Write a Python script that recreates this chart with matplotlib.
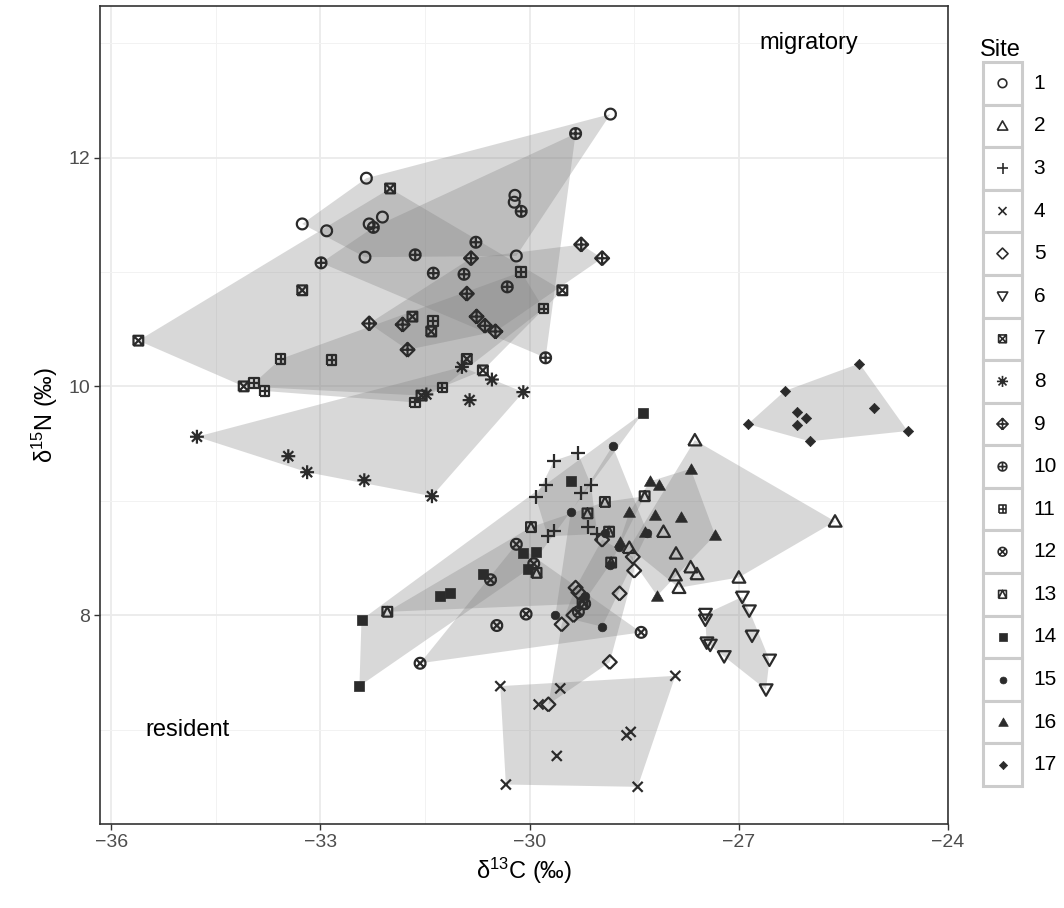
import numpy as np
import matplotlib
matplotlib.use("Agg")
import matplotlib.pyplot as plt
from matplotlib.path import Path
from matplotlib.markers import MarkerStyle
from matplotlib.patches import Rectangle

plt.rcParams['font.family'] = ['Liberation Sans', 'DejaVu Sans']
plt.rcParams['mathtext.fontset'] = 'custom'
plt.rcParams['mathtext.rm'] = 'Liberation Sans'
plt.rcParams['mathtext.default'] = 'regular'

# ---- data: d13C / d15N per site ----
c13_site1 = [-32.34, -33.26, -32.91, -32.30, -32.11, -32.36, -28.84, -30.21, -30.22, -30.19]
n15_site1 = [11.82, 11.42, 11.36, 11.42, 11.48, 11.13, 12.38, 11.67, 11.61, 11.14]
c13_site2 = [-27.63, -25.62, -28.08, -28.57, -27.90, -27.69, -27.60, -27.91, -27.86, -27.00]
n15_site2 = [9.53, 8.82, 8.73, 8.59, 8.54, 8.42, 8.36, 8.35, 8.24, 8.33]
c13_site3 = [-29.65, -29.31, -29.77, -29.91, -29.12, -29.26, -29.65, -29.74, -29.16, -29.03]
n15_site3 = [9.35, 9.42, 9.14, 9.03, 9.14, 9.07, 8.74, 8.69, 8.77, 8.71]
c13_site4 = [-30.42, -29.56, -29.87, -29.61, -28.61, -28.55, -27.91, -30.34, -28.45]
n15_site4 = [7.38, 7.36, 7.22, 6.77, 6.95, 6.98, 7.47, 6.52, 6.50]
c13_site5 = [-28.96, -28.52, -28.50, -28.71, -29.34, -29.30, -28.85, -29.73, -29.54, -29.37]
n15_site5 = [8.66, 8.51, 8.39, 8.19, 8.24, 8.20, 7.59, 7.22, 7.92, 8.00]
c13_site6 = [-26.95, -26.85, -27.48, -27.48, -26.81, -27.46, -27.41, -27.21, -26.56, -26.61]
n15_site6 = [8.16, 8.04, 8.01, 7.96, 7.82, 7.76, 7.74, 7.64, 7.61, 7.35]
c13_site7 = [-32.00, -33.26, -29.53, -35.61, -34.10, -31.68, -31.41, -30.90, -30.67, -31.55]
n15_site7 = [11.73, 10.84, 10.84, 10.40, 10.00, 10.61, 10.48, 10.24, 10.14, 9.92]
c13_site8 = [-34.77, -33.46, -33.19, -32.37, -31.40, -31.48, -30.97, -30.86, -30.54, -30.09]
n15_site8 = [9.56, 9.39, 9.25, 9.18, 9.04, 9.93, 10.17, 9.88, 10.06, 9.95]
c13_site9 = [-29.26, -28.96, -30.84, -30.90, -30.76, -30.64, -30.49, -31.82, -31.75, -32.30]
n15_site9 = [11.24, 11.12, 11.12, 10.81, 10.61, 10.53, 10.48, 10.54, 10.32, 10.55]
c13_site10 = [-32.24, -32.99, -31.64, -31.38, -29.34, -30.12, -30.77, -30.94, -30.32, -29.77]
n15_site10 = [11.39, 11.08, 11.15, 10.99, 12.21, 11.53, 11.26, 10.98, 10.87, 10.25]
c13_site11 = [-30.12, -29.80, -31.38, -31.25, -31.64, -33.57, -32.84, -33.95, -33.80]
n15_site11 = [11.00, 10.68, 10.57, 9.99, 9.86, 10.24, 10.23, 10.03, 9.96]
c13_site12 = [-30.19, -29.94, -30.56, -30.47, -30.05, -31.57, -28.40, -29.30, -29.21]
n15_site12 = [8.62, 8.45, 8.31, 7.91, 8.01, 7.58, 7.85, 8.03, 8.10]
c13_site13 = [-28.92, -29.17, -29.98, -28.86, -28.35, -28.83, -29.90, -32.04, -29.24]
n15_site13 = [8.99, 8.89, 8.77, 8.73, 9.04, 8.46, 8.37, 8.03, 8.10]
c13_site14 = [-28.37, -29.40, -30.09, -29.91, -30.02, -30.67, -31.14, -31.28, -32.41, -32.44]
n15_site14 = [9.77, 9.17, 8.54, 8.55, 8.40, 8.36, 8.19, 8.17, 7.96, 7.38]
c13_site15 = [-28.81, -29.41, -28.92, -28.72, -28.85, -29.20, -29.63, -28.96, -28.31]
n15_site15 = [9.48, 8.90, 8.72, 8.60, 8.44, 8.17, 8.00, 7.90, 8.72]
c13_site16 = [-27.69, -28.27, -28.14, -28.57, -28.20, -27.83, -28.35, -27.34, -28.71, -28.17]
n15_site16 = [9.28, 9.17, 9.14, 8.90, 8.88, 8.86, 8.73, 8.70, 8.64, 8.17]
c13_site17 = [-25.27, -26.34, -25.06, -26.17, -26.03, -26.17, -26.87, -25.98, -24.58]
n15_site17 = [10.20, 9.96, 9.81, 9.78, 9.72, 9.66, 9.67, 9.52, 9.61]

sites = [str(i) for i in range(1, 18)]
c13 = [c13_site1, c13_site2, c13_site3, c13_site4, c13_site5, c13_site6, c13_site7,
       c13_site8, c13_site9, c13_site10, c13_site11, c13_site12, c13_site13,
       c13_site14, c13_site15, c13_site16, c13_site17]
n15 = [n15_site1, n15_site2, n15_site3, n15_site4, n15_site5, n15_site6, n15_site7,
       n15_site8, n15_site9, n15_site10, n15_site11, n15_site12, n15_site13,
       n15_site14, n15_site15, n15_site16, n15_site17]


def convex_hull(pts):
    pts = sorted(set(pts))
    if len(pts) < 3:
        return pts

    def cross(o, a, b):
        return (a[0] - o[0]) * (b[1] - o[1]) - (a[1] - o[1]) * (b[0] - o[0])

    lower, upper = [], []
    for p in pts:
        while len(lower) >= 2 and cross(lower[-2], lower[-1], p) <= 0:
            lower.pop()
        lower.append(p)
    for p in reversed(pts):
        while len(upper) >= 2 and cross(upper[-2], upper[-1], p) <= 0:
            upper.pop()
        upper.append(p)
    return lower[:-1] + upper[:-1]


def make_marker(lines):
    verts, codes = [], []
    for ln in lines:
        verts += ln
        codes += [Path.MOVETO] + [Path.LINETO] * (len(ln) - 1)
    return MarkerStyle(Path(verts, codes))


# ---- ggplot-like shapes ----
t = np.linspace(0, 2 * np.pi, 41)
circle = list(zip(np.cos(t), np.sin(t)))
square = [(-1, -1), (1, -1), (1, 1), (-1, 1), (-1, -1)]
diamond = [(0, -1), (1, 0), (0, 1), (-1, 0), (0, -1)]
tri_up = [(-1, -0.8), (1, -0.8), (0, 0.95), (-1, -0.8)]
tri_dn = [(-1, 0.8), (1, 0.8), (0, -0.95), (-1, 0.8)]
plus = [[(-1, 0), (1, 0)], [(0, -1), (0, 1)]]
cross = [[(-1, -1), (1, 1)], [(-1, 1), (1, -1)]]
k = 0.72
cross_in = [[(-k, -k), (k, k)], [(-k, k), (k, -k)]]

# (marker, size in pt, filled)
shapes = [
    (make_marker([circle]), 7.8, False),
    (make_marker([tri_up]), 9.4, False),
    (make_marker(plus), 10.0, False),
    (make_marker(cross), 7.2, False),
    (make_marker([diamond]), 10.0, False),
    (make_marker([tri_dn]), 9.4, False),
    (make_marker([square] + cross), 7.0, False),
    (make_marker(plus + cross_in), 10.0, False),
    (make_marker([diamond] + plus), 10.0, False),
    (make_marker([circle] + plus), 7.8, False),
    (make_marker([square] + plus), 7.0, False),
    (make_marker([circle] + cross_in), 7.8, False),
    (make_marker([square, [(-1, -1), (0, 1), (1, -1)]]), 7.0, False),
    (make_marker([square]), 6.8, True),
    (make_marker([circle]), 6.2, True),
    (make_marker([tri_up]), 8.6, True),
    (make_marker([diamond]), 7.4, True),
]

pt_color = '#2b2b2b'

fig = plt.figure(figsize=(10.64, 9.08), dpi=100)
ax = fig.add_axes([100 / 1064, 1 - 824 / 908, 848 / 1064, 818 / 908])

for xs, ys in zip(c13, n15):
    hull = convex_hull(list(zip(xs, ys)))
    hx, hy = zip(*hull)
    ax.fill(hx, hy, color='#7f7f7f', alpha=0.3, lw=0, zorder=1)

for xs, ys, (m, size, filled) in zip(c13, n15, shapes):
    ax.scatter(xs, ys, marker=m, s=size ** 2,
               facecolors=pt_color if filled else 'none',
               edgecolors=pt_color, linewidths=1.6 if not filled else 0.5,
               zorder=3)

ax.text(-26.0, 13.0, 'migratory', fontsize=17, ha='center', va='center')
ax.text(-34.9, 7.0, 'resident', fontsize=17, ha='center', va='center')

ax.set_xlim(-36.16, -24.04)
ax.set_ylim(6.175, 13.325)
ax.set_xticks([-36, -33, -30, -27, -24])
ax.set_xticklabels(['\u221236', '\u221233', '\u221230', '\u221227', '\u221224'])
ax.set_yticks([8, 10, 12])
ax.set_xticks([-34.5, -31.5, -28.5, -25.5], minor=True)
ax.set_yticks([7, 9, 11, 13], minor=True)
ax.grid(True, which='major', color='#ebebeb', lw=1.3, zorder=0)
ax.grid(True, which='minor', color='#f2f2f2', lw=0.7, zorder=0)
ax.set_axisbelow(True)
ax.tick_params(which='major', length=4, width=1, color='#333333',
               labelsize=14, labelcolor='#4d4d4d', pad=3)
ax.tick_params(which='minor', length=0)
for sp in ax.spines.values():
    sp.set_color('#333333')
    sp.set_linewidth(1.2)

ax.set_xlabel('\u03b4$^{13}$C (\u2030)', fontsize=17, labelpad=4)
ax.set_ylabel('\u03b4$^{15}$N (\u2030)', fontsize=17, labelpad=6)

# ---- legend drawn by hand (ggplot style keys) ----
lax = fig.add_axes([983 / 1064, 1 - 786 / 908, 39 / 1064, 724 / 908])
lax.set_xlim(0, 1)
lax.set_ylim(len(sites), 0)
lax.axis('off')
for i, (lab, (m, size, filled)) in enumerate(zip(sites, shapes)):
    lax.add_patch(Rectangle((0, i), 1, 1, facecolor='white', edgecolor='#cccccc',
                            lw=2.2, clip_on=False))
    lax.scatter([0.5], [i + 0.5], marker=m, s=(size * 0.8) ** 2,
                facecolors=pt_color if filled else 'none', edgecolors=pt_color,
                linewidths=1.2 if not filled else 0.5, clip_on=False, zorder=3)
    lax.text(1.3, i + 0.5, lab, fontsize=15, va='center', ha='left')
fig.text(980 / 1064, 1 - 50 / 908, 'Site', fontsize=17, va='center', ha='left')

fig.savefig('out.png', dpi=100)
